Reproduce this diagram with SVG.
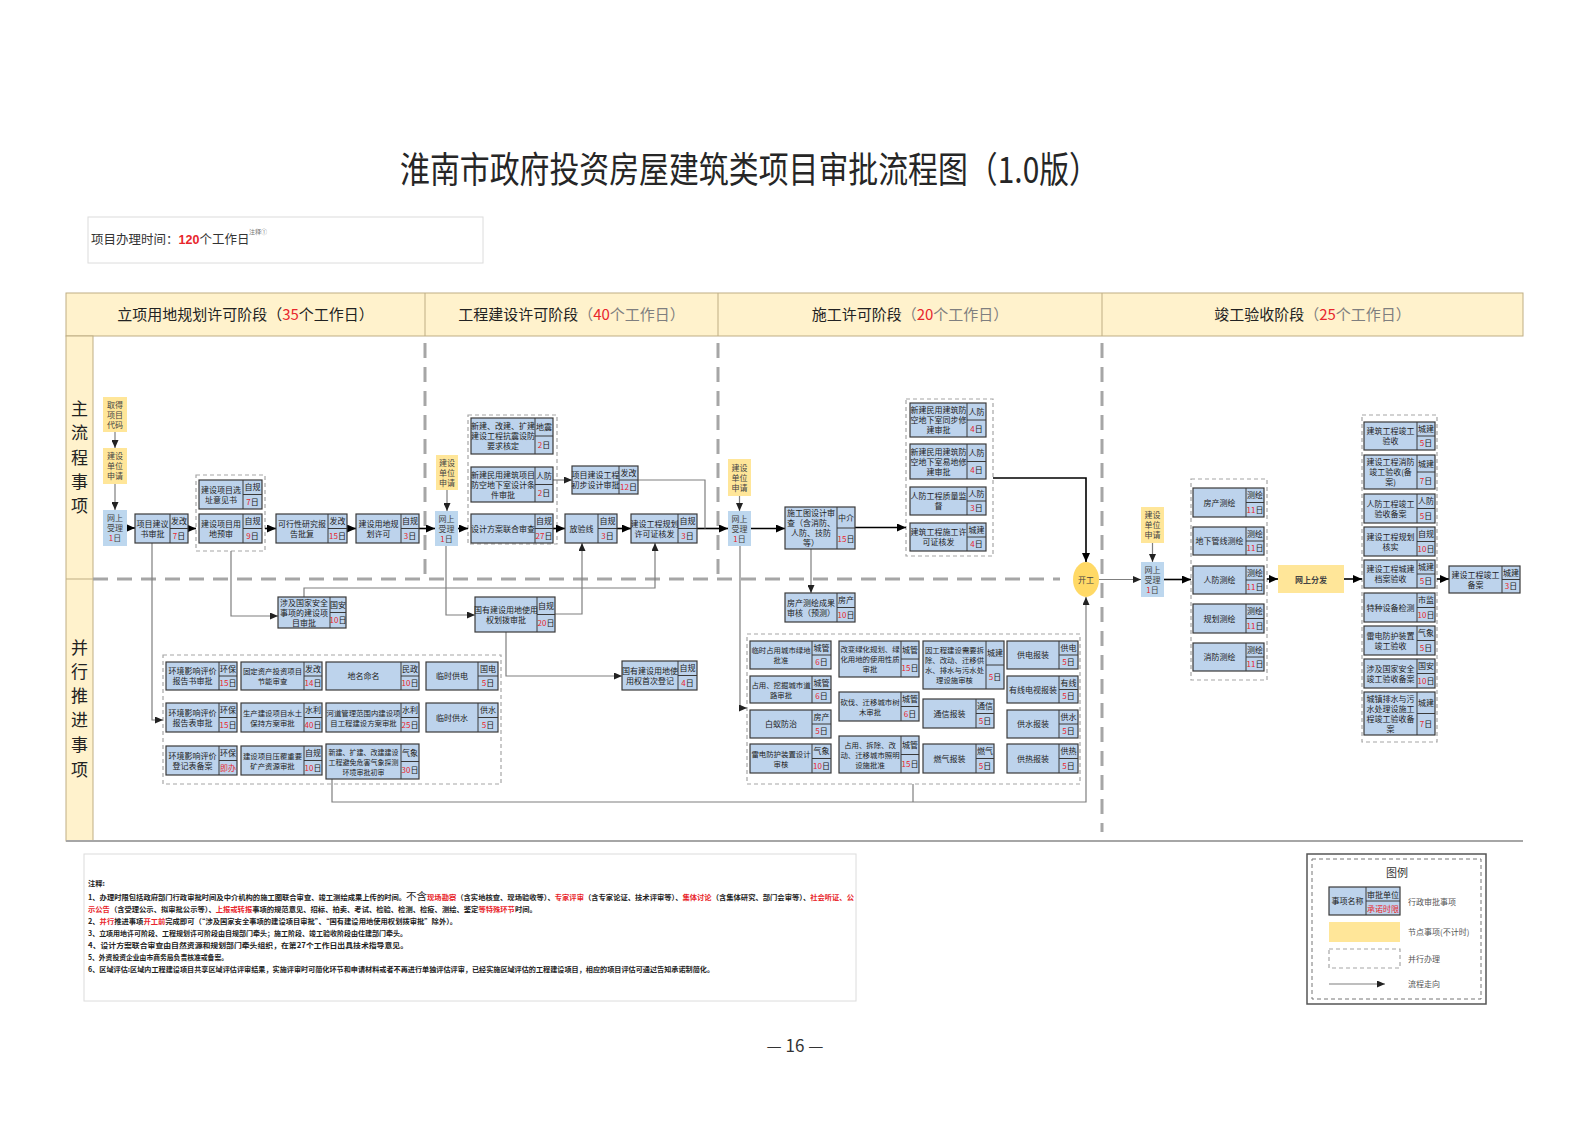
<svg xmlns="http://www.w3.org/2000/svg" width="1587" height="1122" viewBox="0 0 1587 1122">
<style>
text{font-family:"Noto Sans CJK SC","Noto Sans",sans-serif}
.t{font-size:8px;fill:#222;text-anchor:middle}
.ts{font-size:7.4px}
.tx{font-size:7px}
.r{fill:#e8262c}
.nb{fill:#bdd3ec;stroke:#3a3a3a;stroke-width:1.2}
.nl{fill:none;stroke:#3a3a3a;stroke-width:1}
.yl{fill:#ffe699}
.ws{fill:#bdd7ee}
.yt{font-size:8px;fill:#444;text-anchor:middle}
.grp{fill:none;stroke:#a6a6a6;stroke-width:1.2;stroke-dasharray:4 3}
.cm{fill:none;stroke:#000;stroke-width:1.6;marker-end:url(#ab)}
.cg{fill:none;stroke:#7f7f7f;stroke-width:1.2;marker-end:url(#ag)}
.cn{fill:none;stroke:#7f7f7f;stroke-width:1.2}
.dl{fill:none;stroke:#a6a6a6;stroke-width:3;stroke-dasharray:15 9}
.hd{fill:#fff2cc;stroke:#bfae84;stroke-width:1}
.ht{font-size:15px;fill:#222;text-anchor:middle}
.hg{fill:#7f7f7f}
.vt{font-size:17px;fill:#222;text-anchor:middle}
.nt{font-size:7.3px;fill:#222;font-weight:bold}
.lg{font-size:8px;fill:#555}
</style>
<defs>
<marker id="ab" markerUnits="userSpaceOnUse" markerWidth="9" markerHeight="8" refX="9" refY="4" orient="auto"><path d="M0,0L9,4L0,8z" fill="#000"/></marker>
<marker id="ag" markerUnits="userSpaceOnUse" markerWidth="8" markerHeight="7" refX="8" refY="3.5" orient="auto"><path d="M0,0L8,3.5L0,7z" fill="#222"/></marker>
</defs>
<rect width="1587" height="1122" fill="#fff"/>

<g id="title">
<text x="400" y="183" font-size="36" fill="#262626" textLength="699" lengthAdjust="spacingAndGlyphs">淮南市政府投资房屋建筑类项目审批流程图（1.0版）</text>
</g>
<g id="time">
<rect x="88" y="217" width="395" height="46" fill="none" stroke="#dcdcdc" stroke-width="1"/>
<text x="91" y="244" font-size="12.5" fill="#333">项目办理时间：<tspan fill="#e8262c" font-weight="bold" font-family="Liberation Sans">120</tspan>个工作日</text>
<text x="249" y="234" font-size="6" fill="#777">注释①</text>
</g>

<g id="frame">
<rect class="hd" x="66" y="293" width="1457" height="43"/>
<path d="M425 293V336M718 293V336M1102 293V336" stroke="#bfae84" stroke-width="1"/>
<rect class="hd" x="66" y="336" width="27" height="505"/>
<path d="M66 579H93" stroke="#bfae84" stroke-width="1"/>
<path d="M66 841H1523" stroke="#a6a6a6" stroke-width="2"/>
<text class="ht" x="245.5" y="320">立项用地规划许可阶段（<tspan class="r">35</tspan>个工作日）</text>
<text class="ht" x="571.5" y="320">工程建设许可阶段<tspan class="hg">（</tspan><tspan class="r">40</tspan><tspan class="hg">个工作日）</tspan></text>
<text class="ht" x="910" y="320">施工许可阶段<tspan class="hg">（</tspan><tspan class="r">20</tspan><tspan class="hg">个工作日）</tspan></text>
<text class="ht" x="1312.5" y="320">竣工验收阶段<tspan class="hg">（</tspan><tspan class="r">25</tspan><tspan class="hg">个工作日）</tspan></text>
<text class="vt" x="79.5" y="415">主</text><text class="vt" x="79.5" y="439">流</text><text class="vt" x="79.5" y="464">程</text><text class="vt" x="79.5" y="488">事</text><text class="vt" x="79.5" y="512">项</text>
<text class="vt" x="79.5" y="654">并</text><text class="vt" x="79.5" y="678">行</text><text class="vt" x="79.5" y="702">推</text><text class="vt" x="79.5" y="726">进</text><text class="vt" x="79.5" y="751">事</text><text class="vt" x="79.5" y="776">项</text>
<path class="dl" d="M425 343V580M718 343V582M1102 343V832M93 579H1060"/>
</g>

<g id="groups">
<rect class="grp" x="196" y="475" width="69" height="76"/>
<rect class="grp" x="468" y="415" width="89" height="129"/>
<rect class="grp" x="906" y="399" width="87" height="157"/>
<rect class="grp" x="163" y="655" width="338" height="129"/>
<rect class="grp" x="747" y="634" width="333" height="150"/>
<rect class="grp" x="1191" y="479" width="76" height="201"/>
<rect class="grp" x="1362" y="415" width="75" height="327"/>
</g>

<g id="connectors">
<path class="cm" d="M127 528H135"/>
<path class="cm" d="M188 528.5H196"/>
<path class="cm" d="M265 528.5H276"/>
<path class="cm" d="M347 528.5H356"/>
<path class="cm" d="M419 528.5H435"/>
<path class="cm" d="M458 528.5H468"/>
<path class="cm" d="M553 528.5H565"/>
<path class="cm" d="M617 528.5H631"/>
<path class="cm" d="M697 528.5H728"/>
<path class="cm" d="M751 528.5H785"/>
<path class="cm" d="M855 527.5H906"/>
<path class="cm" d="M993 478H1086V562"/>
<path class="cm" d="M1164 579.5H1191"/>
<path class="cm" d="M1267 579H1278"/>
<path class="cm" d="M1344 579H1362"/>
<path class="cm" d="M1437 579H1449"/>
<path class="cg" d="M115 432V448"/>
<path class="cg" d="M115 484V510"/>
<path class="cg" d="M447 490V511"/>
<path class="cg" d="M739.5 496V511"/>
<path class="cg" d="M1152.5 543V562"/>
<path class="cg" d="M1099 579.5H1141"/>
<path class="cg" d="M152 543V720H163"/>
<path class="cg" d="M231 551V616H278"/>
<path class="cg" d="M304 597V588H655V543"/>
<path class="cg" d="M555 614H582V543"/>
<path class="cg" d="M446 546V615H475"/>
<path class="cg" d="M553 480H572" stroke="#555"/>
<path class="cn" d="M638 480H705V528.5" stroke="#555"/>
<path class="cg" d="M506 632V676H622"/>
<path class="cg" d="M811 549V593"/>
<path class="cg" d="M740 546V708H747"/>
<path class="cg" d="M332 779V802H1086V597"/>
<path class="cn" d="M913 784V802"/>
</g>

<g id="y1"><rect class="yl" x="103" y="397" width="24" height="35"/><text class="yt" x="115" y="407.5">取得<tspan x="115" dy="10">项目</tspan><tspan x="115" dy="10">代码</tspan></text></g>
<g id="y2"><rect class="yl" x="103" y="448" width="24" height="36"/><text class="yt" x="115" y="459">建设<tspan x="115" dy="10">单位</tspan><tspan x="115" dy="10">申请</tspan></text></g>
<g id="w1"><rect class="ws" x="103" y="510" width="24" height="36"/><text class="yt" x="115" y="521">网上<tspan x="115" dy="10">受理</tspan><tspan x="115" dy="10"><tspan class="r">1</tspan>日</tspan></text></g>
<g id="y3"><rect class="yl" x="436" y="455" width="22" height="35"/><text class="yt" x="447" y="465.5">建设<tspan x="447" dy="10">单位</tspan><tspan x="447" dy="10">申请</tspan></text></g>
<g id="w2"><rect class="ws" x="435" y="511" width="23" height="35"/><text class="yt" x="446.5" y="521.5">网上<tspan x="446.5" dy="10">受理</tspan><tspan x="446.5" dy="10"><tspan class="r">1</tspan>日</tspan></text></g>
<g id="y4"><rect class="yl" x="728" y="459" width="23" height="37"/><text class="yt" x="739.5" y="470.5">建设<tspan x="739.5" dy="10">单位</tspan><tspan x="739.5" dy="10">申请</tspan></text></g>
<g id="w3"><rect class="ws" x="728" y="511" width="23" height="35"/><text class="yt" x="739.5" y="521.5">网上<tspan x="739.5" dy="10">受理</tspan><tspan x="739.5" dy="10"><tspan class="r">1</tspan>日</tspan></text></g>
<g id="y5"><rect class="yl" x="1141" y="507" width="23" height="36"/><text class="yt" x="1152.5" y="518">建设<tspan x="1152.5" dy="10">单位</tspan><tspan x="1152.5" dy="10">申请</tspan></text></g>
<g id="w4"><rect class="ws" x="1141" y="562" width="23" height="35"/><text class="yt" x="1152.5" y="572.5">网上<tspan x="1152.5" dy="10">受理</tspan><tspan x="1152.5" dy="10"><tspan class="r">1</tspan>日</tspan></text></g>
<g id="y6"><rect class="yl" x="1278" y="565" width="66" height="28"/><text class="yt" x="1311" y="582.5" font-weight="bold" fill="#333">网上分发</text></g>
<g id="kaigong"><ellipse cx="1086" cy="579.5" rx="13" ry="17.5" fill="#ffd966"/><text class="yt" x="1086" y="583" font-size="10">开工</text></g>

<g id="n1"><rect class="nb" x="135" y="514" width="53" height="29"/><path class="nl" d="M170 514V543M170 528.5H188"/><text class="t" x="152.5" y="526.5">项目建议<tspan x="152.5" dy="10">书审批</tspan></text><text class="t" x="179" y="524.25">发改</text><text class="t" x="179" y="538.75"><tspan class="r">7</tspan>日</text></g>
<g id="n2"><rect class="nb" x="199" y="480" width="63" height="29"/><path class="nl" d="M243 480V509M243 494.5H262"/><text class="t" x="221" y="492.5">建设项目选<tspan x="221" dy="10">址意见书</tspan></text><text class="t" x="252.5" y="490.25">自规</text><text class="t" x="252.5" y="504.75"><tspan class="r">7</tspan>日</text></g>
<g id="n3"><rect class="nb" x="199" y="514" width="63" height="29"/><path class="nl" d="M243 514V543M243 528.5H262"/><text class="t" x="221" y="526.5">建设项目用<tspan x="221" dy="10">地预审</tspan></text><text class="t" x="252.5" y="524.25">自规</text><text class="t" x="252.5" y="538.75"><tspan class="r">9</tspan>日</text></g>
<g id="n4"><rect class="nb" x="276" y="514" width="71" height="29"/><path class="nl" d="M328 514V543M328 528.5H347"/><text class="t" x="302" y="526.5">可行性研究报<tspan x="302" dy="10">告批复</tspan></text><text class="t" x="337.5" y="524.25">发改</text><text class="t" x="337.5" y="538.75"><tspan class="r">15</tspan>日</text></g>
<g id="n5"><rect class="nb" x="356" y="514" width="63" height="29"/><path class="nl" d="M401 514V543M401 528.5H419"/><text class="t" x="378.5" y="526.5">建设用地规<tspan x="378.5" dy="10">划许可</tspan></text><text class="t" x="410" y="524.25">自规</text><text class="t" x="410" y="538.75"><tspan class="r">3</tspan>日</text></g>
<g id="n6"><rect class="nb" x="278" y="597" width="68" height="31"/><path class="nl" d="M330 597V628M330 612.5H346"/><text class="t" x="304" y="605.5">涉及国家安全<tspan x="304" dy="10">事项的建设项</tspan><tspan x="304" dy="10">目审批</tspan></text><text class="t" x="338" y="607.75">国安</text><text class="t" x="338" y="623.25"><tspan class="r">10</tspan>日</text></g>

<g id="n7"><rect class="nb" x="471" y="418" width="82" height="36"/><path class="nl" d="M535 418V454M535 436H553"/><text class="t" x="503" y="429">新建、改建、扩建<tspan x="503" dy="10">建设工程抗震设防</tspan><tspan x="503" dy="10">要求核定</tspan></text><text class="t" x="544" y="430">地震</text><text class="t" x="544" y="448"><tspan class="r">2</tspan>日</text></g>
<g id="n8"><rect class="nb" x="471" y="467" width="82" height="35"/><path class="nl" d="M535 467V502M535 484.5H553"/><text class="t" x="503" y="477.5">新建民用建筑项目<tspan x="503" dy="10">防空地下室设计条</tspan><tspan x="503" dy="10">件审批</tspan></text><text class="t" x="544" y="478.75">人防</text><text class="t" x="544" y="496.25"><tspan class="r">2</tspan>日</text></g>
<g id="n9"><rect class="nb" x="471" y="514" width="82" height="29"/><path class="nl" d="M535 514V543M535 528.5H553"/><text class="t" x="503" y="531.5">设计方案联合审查</text><text class="t" x="544" y="524.25">自规</text><text class="t" x="544" y="538.75"><tspan class="r">27</tspan>日</text></g>
<g id="n10"><rect class="nb" x="572" y="466" width="66" height="28"/><path class="nl" d="M619 466V494M619 480H638"/><text class="t" x="595.5" y="478">项目建设工程<tspan x="595.5" dy="10">初步设计审批</tspan></text><text class="t" x="628.5" y="476">发改</text><text class="t" x="628.5" y="490"><tspan class="r">12</tspan>日</text></g>
<g id="n11"><rect class="nb" x="565" y="514" width="52" height="29"/><path class="nl" d="M598 514V543M598 528.5H617"/><text class="t" x="581.5" y="531.5">放验线</text><text class="t" x="607.5" y="524.25">自规</text><text class="t" x="607.5" y="538.75"><tspan class="r">3</tspan>日</text></g>
<g id="n12"><rect class="nb" x="631" y="514" width="66" height="29"/><path class="nl" d="M678 514V543M678 528.5H697"/><text class="t" x="654.5" y="526.5">建设工程规划<tspan x="654.5" dy="10">许可证核发</tspan></text><text class="t" x="687.5" y="524.25">自规</text><text class="t" x="687.5" y="538.75"><tspan class="r">3</tspan>日</text></g>
<g id="n13"><rect class="nb" x="475" y="597" width="80" height="35"/><path class="nl" d="M537 597V632M537 614.5H555"/><text class="t" x="506" y="612.5">国有建设用地使用<tspan x="506" dy="10">权划拨审批</tspan></text><text class="t" x="546" y="608.75">自规</text><text class="t" x="546" y="626.25"><tspan class="r">20</tspan>日</text></g>
<g id="n14"><rect class="nb" x="622" y="661" width="75" height="29"/><path class="nl" d="M678 661V690M678 675.5H697"/><text class="t" x="650" y="673.5">国有建设用地使<tspan x="650" dy="10">用权首次登记</tspan></text><text class="t" x="687.5" y="671.25">自规</text><text class="t" x="687.5" y="685.75"><tspan class="r">4</tspan>日</text></g>

<g id="n15"><rect class="nb" x="785" y="507" width="70" height="42"/><path class="nl" d="M837 507V549M837 528H855"/><text class="t" x="811" y="516">施工图设计审<tspan x="811" dy="10">查（含消防、</tspan><tspan x="811" dy="10">人防、技防</tspan><tspan x="811" dy="10">等）</tspan></text><text class="t" x="846" y="520.5">中介</text><text class="t" x="846" y="541.5"><tspan class="r">15</tspan>日</text></g>
<g id="n16"><rect class="nb" x="785" y="593" width="70" height="29"/><path class="nl" d="M837 593V622M837 607.5H855"/><text class="t" x="811" y="605.5">房产测绘成果<tspan x="811" dy="10">审核（预测）</tspan></text><text class="t" x="846" y="603.25">房产</text><text class="t" x="846" y="617.75"><tspan class="r">10</tspan>日</text></g>
<g id="n17"><rect class="nb" x="910" y="403" width="76" height="34"/><path class="nl" d="M967 403V437M967 420H986"/><text class="t" x="938.5" y="413">新建民用建筑防<tspan x="938.5" dy="10">空地下室同步修</tspan><tspan x="938.5" dy="10">建审批</tspan></text><text class="t" x="976.5" y="414.5">人防</text><text class="t" x="976.5" y="431.5"><tspan class="r">4</tspan>日</text></g>
<g id="n18"><rect class="nb" x="910" y="444" width="76" height="35"/><path class="nl" d="M967 444V479M967 461.5H986"/><text class="t" x="938.5" y="454.5">新建民用建筑防<tspan x="938.5" dy="10">空地下室易地修</tspan><tspan x="938.5" dy="10">建审批</tspan></text><text class="t" x="976.5" y="455.75">人防</text><text class="t" x="976.5" y="473.25"><tspan class="r">4</tspan>日</text></g>
<g id="n19"><rect class="nb" x="910" y="487" width="76" height="28"/><path class="nl" d="M967 487V515M967 501H986"/><text class="t" x="938.5" y="499">人防工程质量监<tspan x="938.5" dy="10">督</tspan></text><text class="t" x="976.5" y="497">人防</text><text class="t" x="976.5" y="511"><tspan class="r">3</tspan>日</text></g>
<g id="n20"><rect class="nb" x="910" y="523" width="76" height="28"/><path class="nl" d="M967 523V551M967 537H986"/><text class="t" x="938.5" y="535">建筑工程施工许<tspan x="938.5" dy="10">可证核发</tspan></text><text class="t" x="976.5" y="533">城建</text><text class="t" x="976.5" y="547"><tspan class="r">4</tspan>日</text></g>

<g id="n21"><rect class="nb" x="750" y="641" width="81" height="28"/><path class="nl" d="M812 641V669M812 655H831"/><text class="t ts" x="781" y="653">临时占用城市绿地<tspan x="781" dy="10">批准</tspan></text><text class="t" x="821.5" y="651">城管</text><text class="t" x="821.5" y="665"><tspan class="r">6</tspan>日</text></g>
<g id="n22"><rect class="nb" x="750" y="676" width="81" height="27"/><path class="nl" d="M812 676V703M812 689.5H831"/><text class="t ts" x="781" y="687.5">占用、挖掘城市道<tspan x="781" dy="10">路审批</tspan></text><text class="t" x="821.5" y="685.75">城管</text><text class="t" x="821.5" y="699.25"><tspan class="r">6</tspan>日</text></g>
<g id="n23"><rect class="nb" x="750" y="710" width="81" height="28"/><path class="nl" d="M812 710V738M812 724H831"/><text class="t" x="781" y="727">白蚁防治</text><text class="t" x="821.5" y="720">房产</text><text class="t" x="821.5" y="734"><tspan class="r">5</tspan>日</text></g>
<g id="n24"><rect class="nb" x="750" y="744" width="81" height="29"/><path class="nl" d="M812 744V773M812 758.5H831"/><text class="t ts" x="781" y="756.5">雷电防护装置设计<tspan x="781" dy="10">审核</tspan></text><text class="t" x="821.5" y="754.25">气象</text><text class="t" x="821.5" y="768.75"><tspan class="r">10</tspan>日</text></g>
<g id="n25"><rect class="nb" x="839" y="641" width="80" height="36"/><path class="nl" d="M901 641V677M901 659H919"/><text class="t ts" x="870" y="652">改变绿化规划、绿<tspan x="870" dy="10">化用地的使用性质</tspan><tspan x="870" dy="10">审批</tspan></text><text class="t" x="910" y="653">城管</text><text class="t" x="910" y="671"><tspan class="r">15</tspan>日</text></g>
<g id="n26"><rect class="nb" x="839" y="692" width="80" height="29"/><path class="nl" d="M901 692V721M901 706.5H919"/><text class="t ts" x="870" y="704.5">砍伐、迁移城市树<tspan x="870" dy="10">木审批</tspan></text><text class="t" x="910" y="702.25">城管</text><text class="t" x="910" y="716.75"><tspan class="r">6</tspan>日</text></g>
<g id="n27"><rect class="nb" x="839" y="736" width="80" height="37"/><path class="nl" d="M901 736V773M901 754.5H919"/><text class="t ts" x="870" y="747.5">占用、拆除、改<tspan x="870" dy="10">动、迁移城市照明</tspan><tspan x="870" dy="10">设施批准</tspan></text><text class="t" x="910" y="748.25">城管</text><text class="t" x="910" y="766.75"><tspan class="r">15</tspan>日</text></g>
<g id="n28"><rect class="nb" x="923" y="641" width="81" height="48"/><path class="nl" d="M986 641V689M986 665H1004"/><text class="t ts" x="954.5" y="653">因工程建设需要拆<tspan x="954.5" dy="10">除、改动、迁移供</tspan><tspan x="954.5" dy="10">水、排水与污水处</tspan><tspan x="954.5" dy="10">理设施审核</tspan></text><text class="t" x="995" y="656">城建</text><text class="t" x="995" y="680"><tspan class="r">5</tspan>日</text></g>
<g id="n29"><rect class="nb" x="923" y="699" width="71" height="29"/><path class="nl" d="M976 699V728M976 713.5H994"/><text class="t" x="949.5" y="716.5">通信报装</text><text class="t" x="985" y="709.25">通信</text><text class="t" x="985" y="723.75"><tspan class="r">5</tspan>日</text></g>
<g id="n30"><rect class="nb" x="923" y="744" width="71" height="29"/><path class="nl" d="M976 744V773M976 758.5H994"/><text class="t" x="949.5" y="761.5">燃气报装</text><text class="t" x="985" y="754.25">燃气</text><text class="t" x="985" y="768.75"><tspan class="r">5</tspan>日</text></g>
<g id="n31"><rect class="nb" x="1007" y="641" width="71" height="28"/><path class="nl" d="M1059 641V669M1059 655H1078"/><text class="t" x="1033" y="658">供电报装</text><text class="t" x="1068.5" y="651">供电</text><text class="t" x="1068.5" y="665"><tspan class="r">5</tspan>日</text></g>
<g id="n32"><rect class="nb" x="1007" y="676" width="71" height="27"/><path class="nl" d="M1059 676V703M1059 689.5H1078"/><text class="t" x="1033" y="692.5">有线电视报装</text><text class="t" x="1068.5" y="685.75">有线</text><text class="t" x="1068.5" y="699.25"><tspan class="r">5</tspan>日</text></g>
<g id="n33"><rect class="nb" x="1007" y="710" width="71" height="28"/><path class="nl" d="M1059 710V738M1059 724H1078"/><text class="t" x="1033" y="727">供水报装</text><text class="t" x="1068.5" y="720">供水</text><text class="t" x="1068.5" y="734"><tspan class="r">5</tspan>日</text></g>
<g id="n34"><rect class="nb" x="1007" y="744" width="71" height="29"/><path class="nl" d="M1059 744V773M1059 758.5H1078"/><text class="t" x="1033" y="761.5">供热报装</text><text class="t" x="1068.5" y="754.25">供热</text><text class="t" x="1068.5" y="768.75"><tspan class="r">5</tspan>日</text></g>

<g id="n35"><rect class="nb" x="166" y="662" width="71" height="28"/><path class="nl" d="M219 662V690M219 676H237"/><text class="t" x="192.5" y="674">环境影响评价<tspan x="192.5" dy="10">报告书审批</tspan></text><text class="t" x="228" y="672">环保</text><text class="t" x="228" y="686"><tspan class="r">15</tspan>日</text></g>
<g id="n36"><rect class="nb" x="241" y="662" width="81" height="28"/><path class="nl" d="M304 662V690M304 676H322"/><text class="t ts" x="272.5" y="674">固定资产投资项目<tspan x="272.5" dy="10">节能审查</tspan></text><text class="t" x="313" y="672">发改</text><text class="t" x="313" y="686"><tspan class="r">14</tspan>日</text></g>
<g id="n37"><rect class="nb" x="326" y="662" width="93" height="28"/><path class="nl" d="M401 662V690M401 676H419"/><text class="t" x="363.5" y="679">地名命名</text><text class="t" x="410" y="672">民政</text><text class="t" x="410" y="686"><tspan class="r">10</tspan>日</text></g>
<g id="n38"><rect class="nb" x="426" y="662" width="72" height="28"/><path class="nl" d="M478 662V690M478 676H498"/><text class="t" x="452" y="679">临时供电</text><text class="t" x="488" y="672">国电</text><text class="t" x="488" y="686"><tspan class="r">5</tspan>日</text></g>
<g id="n39"><rect class="nb" x="166" y="703" width="71" height="29"/><path class="nl" d="M219 703V732M219 717.5H237"/><text class="t" x="192.5" y="715.5">环境影响评价<tspan x="192.5" dy="10">报告表审批</tspan></text><text class="t" x="228" y="713.25">环保</text><text class="t" x="228" y="727.75"><tspan class="r">15</tspan>日</text></g>
<g id="n40"><rect class="nb" x="241" y="703" width="81" height="29"/><path class="nl" d="M304 703V732M304 717.5H322"/><text class="t ts" x="272.5" y="715.5">生产建设项目水土<tspan x="272.5" dy="10">保持方案审批</tspan></text><text class="t" x="313" y="713.25">水利</text><text class="t" x="313" y="727.75"><tspan class="r">40</tspan>日</text></g>
<g id="n41"><rect class="nb" x="326" y="703" width="93" height="29"/><path class="nl" d="M401 703V732M401 717.5H419"/><text class="t ts" x="363.5" y="715.5">河道管理范围内建设项<tspan x="363.5" dy="10">目工程建设方案审批</tspan></text><text class="t" x="410" y="713.25">水利</text><text class="t" x="410" y="727.75"><tspan class="r">25</tspan>日</text></g>
<g id="n42"><rect class="nb" x="426" y="703" width="72" height="29"/><path class="nl" d="M478 703V732M478 717.5H498"/><text class="t" x="452" y="720.5">临时供水</text><text class="t" x="488" y="713.25">供水</text><text class="t" x="488" y="727.75"><tspan class="r">5</tspan>日</text></g>
<g id="n43"><rect class="nb" x="166" y="746" width="71" height="29"/><path class="nl" d="M219 746V775M219 760.5H237"/><text class="t" x="192.5" y="758.5">环境影响评价<tspan x="192.5" dy="10">登记表备案</tspan></text><text class="t" x="228" y="756.25">环保</text><text class="t r" x="228" y="770.75">即办</text></g>
<g id="n44"><rect class="nb" x="241" y="746" width="81" height="29"/><path class="nl" d="M304 746V775M304 760.5H322"/><text class="t ts" x="272.5" y="758.5">建设项目压覆重要<tspan x="272.5" dy="10">矿产资源审批</tspan></text><text class="t" x="313" y="756.25">自规</text><text class="t" x="313" y="770.75"><tspan class="r">10</tspan>日</text></g>
<g id="n45"><rect class="nb" x="326" y="744" width="93" height="35"/><path class="nl" d="M401 744V779M401 761.5H419"/><text class="t tx" x="363.5" y="754.5">新建、扩建、改建建设<tspan x="363.5" dy="10">工程避免危害气象探测</tspan><tspan x="363.5" dy="10">环境审批初审</tspan></text><text class="t" x="410" y="755.75">气象</text><text class="t" x="410" y="773.25"><tspan class="r">30</tspan>日</text></g>

<g id="n46"><rect class="nb" x="1193" y="488" width="71" height="29"/><path class="nl" d="M1246 488V517M1246 502.5H1264"/><text class="t" x="1219.5" y="505.5">房产测绘</text><text class="t" x="1255" y="498.25">测绘</text><text class="t" x="1255" y="512.75"><tspan class="r">11</tspan>日</text></g>
<g id="n47"><rect class="nb" x="1193" y="527" width="71" height="28"/><path class="nl" d="M1246 527V555M1246 541H1264"/><text class="t" x="1219.5" y="544">地下管线测绘</text><text class="t" x="1255" y="537">测绘</text><text class="t" x="1255" y="551"><tspan class="r">11</tspan>日</text></g>
<g id="n48"><rect class="nb" x="1193" y="566" width="71" height="28"/><path class="nl" d="M1246 566V594M1246 580H1264"/><text class="t" x="1219.5" y="583">人防测绘</text><text class="t" x="1255" y="576">测绘</text><text class="t" x="1255" y="590"><tspan class="r">11</tspan>日</text></g>
<g id="n49"><rect class="nb" x="1193" y="604" width="71" height="29"/><path class="nl" d="M1246 604V633M1246 618.5H1264"/><text class="t" x="1219.5" y="621.5">规划测绘</text><text class="t" x="1255" y="614.25">测绘</text><text class="t" x="1255" y="628.75"><tspan class="r">11</tspan>日</text></g>
<g id="n50"><rect class="nb" x="1193" y="643" width="71" height="28"/><path class="nl" d="M1246 643V671M1246 657H1264"/><text class="t" x="1219.5" y="660">消防测绘</text><text class="t" x="1255" y="653">测绘</text><text class="t" x="1255" y="667"><tspan class="r">11</tspan>日</text></g>

<g id="n51"><rect class="nb" x="1364" y="422" width="71" height="28"/><path class="nl" d="M1417 422V450M1417 436H1435"/><text class="t" x="1390.5" y="434">建筑工程竣工<tspan x="1390.5" dy="10">验收</tspan></text><text class="t" x="1426" y="432">城建</text><text class="t" x="1426" y="446"><tspan class="r">5</tspan>日</text></g>
<g id="n52"><rect class="nb" x="1364" y="455" width="71" height="34"/><path class="nl" d="M1417 455V489M1417 472H1435"/><text class="t" x="1390.5" y="465">建设工程消防<tspan x="1390.5" dy="10">竣工验收(备</tspan><tspan x="1390.5" dy="10">案)</tspan></text><text class="t" x="1426" y="466.5">城建</text><text class="t" x="1426" y="483.5"><tspan class="r">7</tspan>日</text></g>
<g id="n53"><rect class="nb" x="1364" y="494" width="71" height="29"/><path class="nl" d="M1417 494V523M1417 508.5H1435"/><text class="t" x="1390.5" y="506.5">人防工程竣工<tspan x="1390.5" dy="10">验收备案</tspan></text><text class="t" x="1426" y="504.25">人防</text><text class="t" x="1426" y="518.75"><tspan class="r">5</tspan>日</text></g>
<g id="n54"><rect class="nb" x="1364" y="527" width="71" height="29"/><path class="nl" d="M1417 527V556M1417 541.5H1435"/><text class="t" x="1390.5" y="539.5">建设工程规划<tspan x="1390.5" dy="10">核实</tspan></text><text class="t" x="1426" y="537.25">自规</text><text class="t" x="1426" y="551.75"><tspan class="r">10</tspan>日</text></g>
<g id="n55"><rect class="nb" x="1364" y="560" width="71" height="28"/><path class="nl" d="M1417 560V588M1417 574H1435"/><text class="t" x="1390.5" y="572">建设工程城建<tspan x="1390.5" dy="10">档案验收</tspan></text><text class="t" x="1426" y="570">城建</text><text class="t" x="1426" y="584"><tspan class="r">5</tspan>日</text></g>
<g id="n56"><rect class="nb" x="1364" y="593" width="71" height="29"/><path class="nl" d="M1417 593V622M1417 607.5H1435"/><text class="t" x="1390.5" y="610.5">特种设备检测</text><text class="t" x="1426" y="603.25">市监</text><text class="t" x="1426" y="617.75"><tspan class="r">10</tspan>日</text></g>
<g id="n57"><rect class="nb" x="1364" y="626" width="71" height="29"/><path class="nl" d="M1417 626V655M1417 640.5H1435"/><text class="t" x="1390.5" y="638.5">雷电防护装置<tspan x="1390.5" dy="10">竣工验收</tspan></text><text class="t" x="1426" y="636.25">气象</text><text class="t" x="1426" y="650.75"><tspan class="r">5</tspan>日</text></g>
<g id="n58"><rect class="nb" x="1364" y="659" width="71" height="29"/><path class="nl" d="M1417 659V688M1417 673.5H1435"/><text class="t" x="1390.5" y="671.5">涉及国家安全<tspan x="1390.5" dy="10">竣工验收备案</tspan></text><text class="t" x="1426" y="669.25">国安</text><text class="t" x="1426" y="683.75"><tspan class="r">10</tspan>日</text></g>
<g id="n59"><rect class="nb" x="1364" y="692" width="71" height="43"/><path class="nl" d="M1417 692V735M1417 713.5H1435"/><text class="t" x="1390.5" y="701.5">城镇排水与污<tspan x="1390.5" dy="10">水处理设施工</tspan><tspan x="1390.5" dy="10">程竣工验收备</tspan><tspan x="1390.5" dy="10">案</tspan></text><text class="t" x="1426" y="705.75">城建</text><text class="t" x="1426" y="727.25"><tspan class="r">7</tspan>日</text></g>
<g id="n60"><rect class="nb" x="1449" y="566" width="71" height="27"/><path class="nl" d="M1502 566V593M1502 579.5H1520"/><text class="t" x="1475.5" y="577.5">建设工程竣工<tspan x="1475.5" dy="10">备案</tspan></text><text class="t" x="1511" y="575.75">城建</text><text class="t" x="1511" y="589.25"><tspan class="r">3</tspan>日</text></g>

<g id="notes">
<rect x="84" y="854" width="772" height="147" fill="none" stroke="#dcdcdc" stroke-width="1"/>
<text class="nt" x="88" y="886">注释:</text>
<text class="nt" x="88" y="900">1、办理时限包括政府部门行政审批时间及中介机构的施工图联合审查、竣工测绘成果上传的时间。<tspan font-size="10.5" font-weight="normal">不含</tspan><tspan class="r">现场勘察</tspan>（含实地核查、现场验收等）、<tspan class="r">专家评审</tspan>（含专家论证、技术评审等）、<tspan class="r">集体讨论</tspan>（含集体研究、部门会审等）、<tspan class="r">社会听证、公</tspan></text>
<text class="nt" x="88" y="912"><tspan class="r">示公告</tspan>（含受理公示、拟审批公示等）、<tspan class="r">上报或转报</tspan>事项的规范意见、招标、拍卖、考试、检验、检测、检疫、测绘、鉴定<tspan class="r">等特殊环节</tspan>时间。</text>
<text class="nt" x="88" y="924">2、<tspan class="r">并行</tspan>推进事项<tspan class="r">开工前</tspan>完成即可（“涉及国家安全事项的建设项目审批”、“国有建设用地使用权划拨审批”除外）。</text>
<text class="nt" x="88" y="936" textLength="319" lengthAdjust="spacingAndGlyphs">3、立项用地许可阶段、工程规划许可阶段由自规部门牵头；施工阶段、竣工验收阶段由住建部门牵头。</text>
<text class="nt" x="88" y="948" textLength="320" lengthAdjust="spacingAndGlyphs">4、设计方案联合审查由自然资源和规划部门牵头组织，在第27个工作日出具技术指导意见。</text>
<text class="nt" x="88" y="960" textLength="140" lengthAdjust="spacingAndGlyphs">5、外资投资企业由市商务局负责核准或备案。</text>
<text class="nt" x="88" y="972" textLength="626" lengthAdjust="spacingAndGlyphs">6、区域评估:区域内工程建设项目共享区域评估评审结果，实施评审时可简化环节和申请材料或者不再进行单独评估评审，已经实施区域评估的工程建设项目，相应的项目评估可通过告知承诺制简化。</text>
</g>

<g id="legend">
<rect x="1307" y="854" width="179" height="150" fill="none" stroke="#555" stroke-width="1.5"/>
<rect x="1312" y="859" width="169" height="140" fill="none" stroke="#777" stroke-width="1" stroke-dasharray="4 3"/>
<text x="1397" y="877" font-size="11" fill="#333" text-anchor="middle">图例</text>
<rect class="nb" x="1329" y="887" width="71" height="28"/>
<path class="nl" d="M1366 887V915M1366 901H1400"/>
<text class="t" x="1347.5" y="904" font-size="7">事项名称</text>
<text class="t" x="1383" y="897.5" font-size="7">审批单位</text>
<text class="t r" x="1383" y="911.5" font-size="7">承诺时限</text>
<text class="lg" x="1408" y="905">行政审批事项</text>
<rect class="yl" x="1329" y="922" width="71" height="20"/>
<text class="lg" x="1408" y="935">节点事项(不计时)</text>
<rect class="grp" x="1329" y="949" width="71" height="19"/>
<text class="lg" x="1408" y="962">并行办理</text>
<path class="cn" d="M1329 984H1385" marker-end="url(#ag)"/>
<text class="lg" x="1408" y="987">流程走向</text>
</g>

<g id="page">
<text x="795" y="1052" font-size="17" fill="#333" text-anchor="middle" font-family="Liberation Serif">— 16 —</text>
</g>
</svg>
